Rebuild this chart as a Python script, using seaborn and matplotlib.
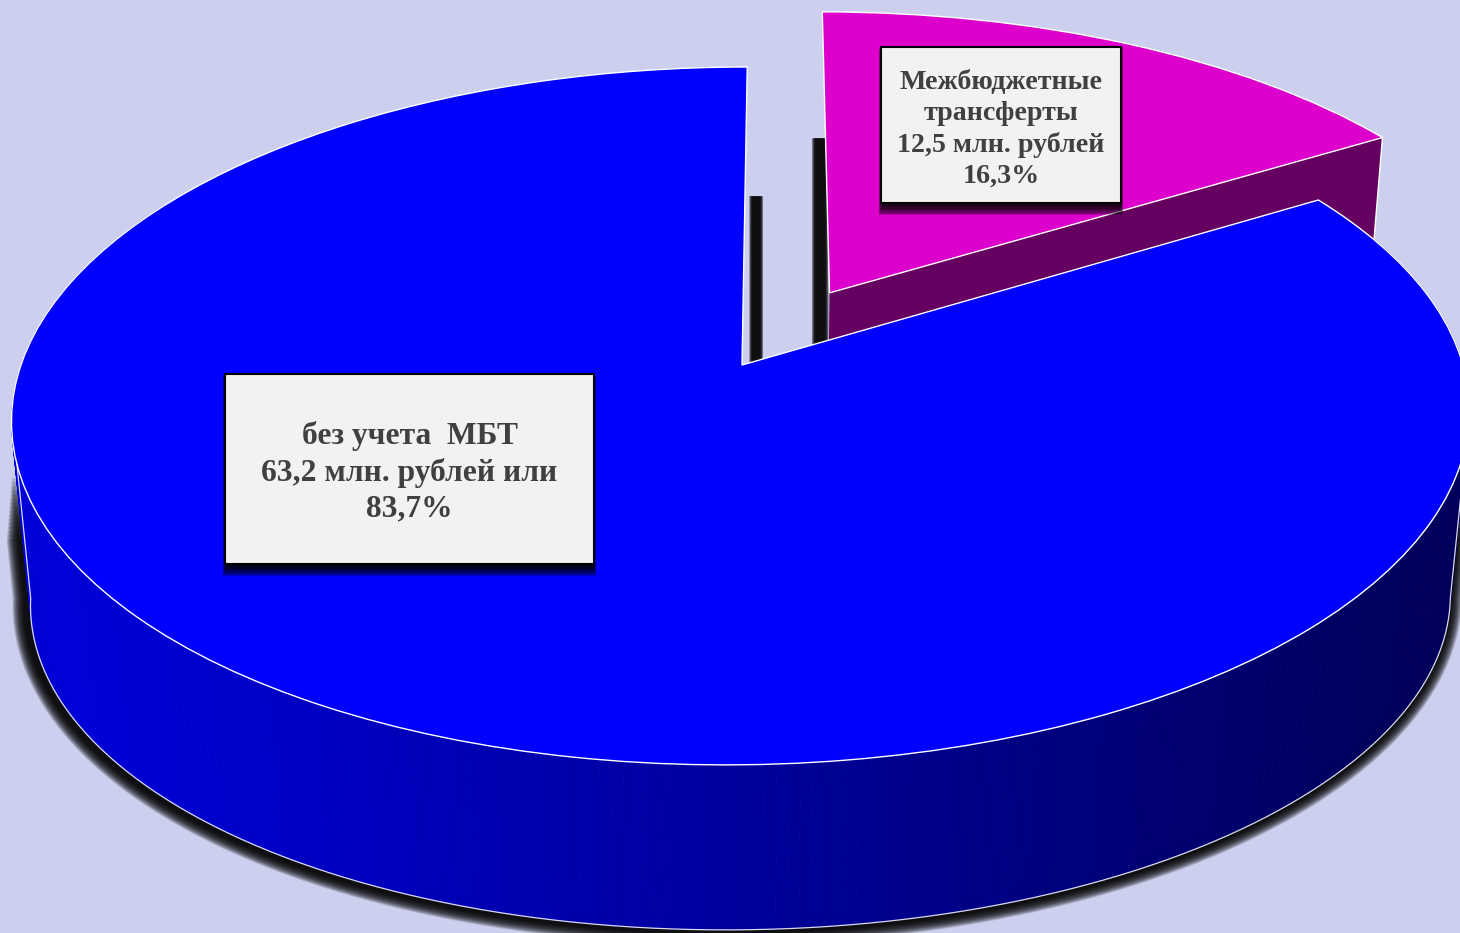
import numpy as np
import matplotlib
matplotlib.use('Agg')
import matplotlib.pyplot as plt
from matplotlib.patches import Rectangle
from matplotlib.transforms import Transform
import seaborn as sns

categories = ['без учета  МБТ', 'Межбюджетные\nтрансферты']
shares = [83.7, 16.3]
explode = [0, 0.25]
label_texts = ['без учета  МБТ\n63,2 млн. рублей или\n83,7%',
               'Межбюджетные\nтрансферты\n12,5 млн. рублей\n16,3%']
top_colors = ['#0000ff', '#dd00cc']
wall_colors = ['#0000d8', '#00009c', '#00005c']
purple_wall = '#660060'
bg_color = '#ccd0ee'

sns.set_theme(style='white')
plt.rcParams['font.family'] = ['Liberation Serif', 'DejaVu Serif']

# the pie is drawn on a unit circle and tipped over with a perspective map
K = 0.146


def tilt(xy, sx=1.0, sy=1.0, y0=365.0):
    xy = np.atleast_2d(xy)
    u, v = xy[:, 0], xy[:, 1]
    w = 1 / (1 + K * v)
    return np.column_stack([742 + 721 * sx * u * w + (10 * v - 4 * v ** 2) * w,
                            y0 - 341.5 * sy * v * w])


class Tilt(Transform):
    input_dims = 2
    output_dims = 2
    is_separable = False

    def transform_non_affine(self, values):
        return tilt(values)


def lower(xy):
    return tilt(xy, sx=0.974, sy=0.945, y0=552.0)


def rim(center, t1, t2, n=240):
    t = np.radians(np.linspace(t1, t2, n))
    return np.column_stack([center[0] + np.cos(t), center[1] + np.sin(t)])


fig = plt.figure(figsize=(14.6, 9.33), dpi=100, facecolor=bg_color)
ax = fig.add_axes([0, 0, 1, 1])
wedges, _ = ax.pie(shares, explode=explode, startangle=90, colors=top_colors,
                   wedgeprops={'edgecolor': 'white', 'linewidth': 1.0})
ax.set_aspect('auto')
ax.set_xlim(0, 1460)
ax.set_ylim(933, 0)
ax.axis('off')

blue, pink = wedges
to_data = Tilt() + ax.transData
for w in wedges:
    w.set_transform(to_data)
blue.set_zorder(6)
pink.set_zorder(4)


# blurred shadow: stacked lines, the wider ones are cut shorter so the ends fade too
def soft_line(x, y, width, z, layers=16, alpha=0.14, core=0.35, trim=1):
    for i in range(layers):
        lw = width * (core + (1 - core) * (i + 1) / layers) * 0.72
        cut = i * trim
        ax.plot(x[cut:len(x) - cut], y[cut:len(y) - cut], color='black', lw=lw, alpha=alpha,
                solid_capstyle='butt', zorder=z)


# shadows in the gap between the slices
soft_line(np.full(165, 756.0), np.linspace(196, 362, 165), 14, 1, core=0.55, trim=0)
soft_line(np.full(210, 820.0), np.linspace(138, 347, 210), 17, 1, core=0.55, trim=0)

# silhouette of the wall: tangent down the left, lower rim, tangent up the right
front = lower(rim(blue.center, 188, 352))
left_top = tilt(rim(blue.center, 188, 188, 1))[0]
right_top = tilt(rim(blue.center, 352, 352, 1))[0]

# shadow under the pie, fades in part way down the tangents
ramp = np.linspace(0.35, 1, 30, endpoint=False)
left_leg = left_top + ramp[:, None] * (front[0] - left_top)
right_leg = (right_top + ramp[:, None] * (front[-1] - right_top))[::-1]
under = np.vstack([left_leg, front, right_leg])
soft_line(under[:, 0] - 3, under[:, 1], 30, 1, core=0.2)

# wall of the pink slice facing the camera
c = np.array(pink.center)
t_end = pink.theta1
end_pt = rim(c, t_end, t_end, 1)
top_pts = tilt(np.vstack([c, end_pt]))
low_pts = lower(np.vstack([c, end_pt]))
ax.fill(np.r_[top_pts[:, 0], low_pts[::-1, 0]], np.r_[top_pts[:, 1], low_pts[::-1, 1]],
        color=purple_wall, zorder=3, lw=0)
ax.plot([top_pts[1, 0], low_pts[1, 0]], [top_pts[1, 1], low_pts[1, 1]], color='white', lw=1, zorder=3)

# curved wall of the big slice, split up so it can carry the gradient
pts = rim(blue.center, 150, blue.theta2, 300)
top_r, low_r = tilt(pts), lower(pts)
shades = sns.blend_palette(wall_colors, 256)
for i in range(len(pts) - 1):
    frac = np.clip((top_r[i, 0] - 60) / 1340, 0, 1)
    col = shades[int(frac * 255)]
    ax.fill([top_r[i, 0], top_r[i + 1, 0], low_r[i + 1, 0], low_r[i, 0]],
            [top_r[i, 1], top_r[i + 1, 1], low_r[i + 1, 1], low_r[i, 1]],
            color=col, lw=0.6, zorder=5)

ax.plot(np.r_[left_top[0], front[:, 0], right_top[0]], np.r_[left_top[1], front[:, 1], right_top[1]],
        color='white', lw=0.9, alpha=0.85, zorder=5.5)

# labels
boxes = [(225, 374, 369, 190, 22.7, 1.3, 3), (881, 47, 240, 156, 20.2, 1.3, 4)]
for (x, y, bw, bh, fs, sp, dy), txt in zip(boxes, label_texts):
    for i in range(8):
        grow = i * 1.3
        ax.add_patch(Rectangle((x + 1 - grow / 3, y + 2), bw + grow / 2.5, bh + 1 + grow, fc='black', ec='none',
                               alpha=0.22, zorder=7))
    ax.add_patch(Rectangle((x, y), bw, bh, fc='#f2f2f2', ec='black', lw=1.5, zorder=8))
    ax.text(x + bw / 2, y + bh / 2 + dy, txt, ha='center', va='center', fontsize=fs,
            fontweight='bold', color='#404040', linespacing=sp, zorder=9)

fig.savefig('out.png', dpi=100, facecolor=bg_color)
